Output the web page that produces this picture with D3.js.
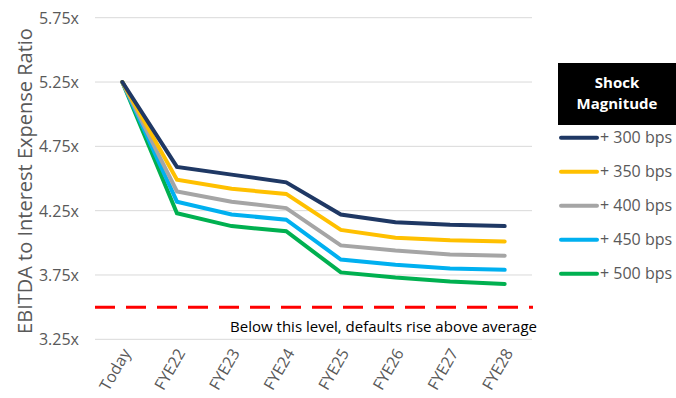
<!DOCTYPE html>
<html><head><meta charset="utf-8">
<script src="https://cdn.jsdelivr.net/npm/d3@7"></script>
<style>body{margin:0;background:#fff}svg{display:block;font-family:"Open Sans",Lato,sans-serif}</style>
</head><body>
<svg id="chart" width="676" height="398"></svg>
<script>
const categories = ["Today","FYE22","FYE23","FYE24","FYE25","FYE26","FYE27","FYE28"];
const seriesNames = ["+ 300 bps","+ 350 bps","+ 400 bps","+ 450 bps","+ 500 bps"];
const s300 = [5.25,4.59,4.53,4.47,4.22,4.16,4.14,4.13];
const s350 = [5.25,4.49,4.42,4.38,4.10,4.04,4.02,4.01];
const s400 = [5.25,4.40,4.32,4.27,3.98,3.94,3.91,3.90];
const s450 = [5.25,4.32,4.22,4.18,3.87,3.83,3.80,3.79];
const s500 = [5.25,4.23,4.13,4.09,3.77,3.73,3.70,3.68];
const seriesValues = [s300,s350,s400,s450,s500];
const colors = ["#1F3864","#FFC000","#A5A5A5","#00B0F0","#00B050"];
const yTicks = [3.25,3.75,4.25,4.75,5.25,5.75];
const threshold = 3.5;
const yTitle = "EBITDA to Interest Expense Ratio";
const legendTitle = ["Shock","Magnitude"];
const note = "Below this level, defaults rise above average";

const svg = d3.select("#chart");
const x = d3.scaleBand().domain(categories).range([95,532]);
const y = d3.scaleLinear().domain([3.25,5.75]).range([339.3,17.7]);
const cx = d => x(d) + x.bandwidth()/2;

// gridlines
svg.append("g").selectAll("line").data(yTicks).join("line")
  .attr("x1",95).attr("x2",532).attr("y1",d=>y(d)).attr("y2",d=>y(d))
  .attr("stroke","#D9D9D9").attr("stroke-width",1);

// y axis labels
const yAxis = d3.axisLeft(y).tickValues(yTicks).tickFormat(d=>d.toFixed(2)+"x").tickSize(0).tickPadding(0);
const ya = svg.append("g").attr("transform","translate(79,0)").call(yAxis);
ya.select(".domain").remove();
ya.selectAll("text").attr("font-size",16).attr("fill","#595959").attr("font-family","'Open Sans',sans-serif").attr("dy","0.35em");

// x axis labels
const xAxis = d3.axisBottom(x).tickSize(0).tickPadding(0);
const xa = svg.append("g").attr("transform","translate(0,347)").call(xAxis);
xa.select(".domain").remove();
xa.selectAll("text").attr("font-size",16).attr("fill","#595959").attr("font-family","'Open Sans',sans-serif")
  .attr("text-anchor","end").attr("dy","0.35em").attr("transform","translate(4,3) rotate(-60)");

// threshold
svg.append("line").attr("x1",95).attr("x2",533).attr("y1",y(threshold)).attr("y2",y(threshold))
  .attr("stroke","#FF0000").attr("stroke-width",3).attr("stroke-dasharray","20,11");
svg.append("text").attr("x",537).attr("y",332).attr("text-anchor","end")
  .attr("font-size",15).attr("fill","#000").text(note);

// lines
const line = d3.line().x((d,i)=>cx(categories[i])).y(d=>y(d));
svg.append("g").selectAll("path").data(seriesValues.map((v,i)=>({v,i})).reverse()).join("path")
  .attr("d",d=>line(d.v)).attr("fill","none").attr("stroke",d=>colors[d.i])
  .attr("stroke-width",4).attr("stroke-linejoin","miter").attr("stroke-linecap","round");

// y title
svg.append("text").attr("transform","translate(32,181) rotate(-90)").attr("text-anchor","middle")
  .attr("font-size",20).attr("fill","#595959").text(yTitle);

// legend
const lg = svg.append("g");
lg.append("rect").attr("x",558).attr("y",63).attr("width",118).attr("height",62).attr("fill","#000");
lg.selectAll("text.t").data(legendTitle).join("text").attr("class","t")
  .attr("x",617).attr("y",(d,i)=>88+i*21).attr("text-anchor","middle")
  .attr("font-size",15).attr("font-weight","bold").attr("fill","#fff").text(d=>d);
const items = lg.selectAll("g.it").data(seriesNames).join("g").attr("class","it")
  .attr("transform",(d,i)=>`translate(0,${137.7+i*34})`);
items.append("line").attr("x1",561).attr("x2",597).attr("stroke",(d,i)=>colors[i])
  .attr("stroke-width",4).attr("stroke-linecap","round");
items.append("text").attr("x",600).attr("y",0).attr("dy","0.35em").attr("font-size",16)
  .attr("fill","#595959").text(d=>d);
</script>
</body></html>
